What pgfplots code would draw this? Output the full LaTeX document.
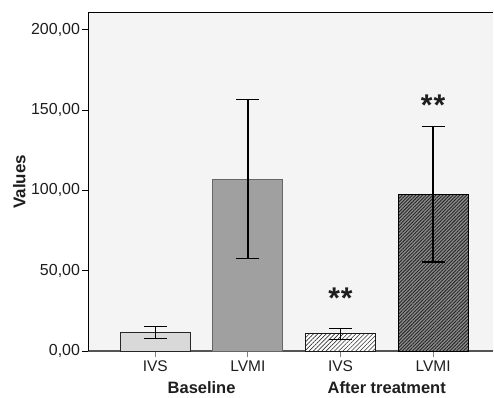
\documentclass[border=0pt]{standalone}
\usepackage{fontspec}
\setmainfont{Liberation Sans}
\usepackage{pgfplots}
\pgfplotsset{compat=1.18}
\usetikzlibrary{patterns.meta}
\definecolor{bg}{RGB}{243,244,243}
\definecolor{bara}{RGB}{217,217,217}
\definecolor{barb}{RGB}{160,160,160}
\definecolor{bard}{RGB}{140,140,140}
\definecolor{axgray}{RGB}{85,85,85}
\definecolor{txt}{RGB}{30,30,30}
\begin{document}
\begin{tikzpicture}
\pgfplotsset{
  myerr/.style={error bars/.cd, y dir=both, y explicit,
    error bar style={line width=1.3pt, black},
    error mark options={rotate=90, mark size=11.5pt, line width=1.3pt, black}},
}
\begin{axis}[
  scale only axis, width=405.7pt, height=339.4pt,
  xmin=-0.725, xmax=3.65, ymin=0, ymax=210.8,
  axis x line*=bottom, axis y line*=left,
  axis background/.style={fill=bg},
  x axis line style={draw=axgray, line width=1.5pt},
  y axis line style={draw=black, line width=0.9pt},
  tick align=outside,
  major tick length=6pt,
  x tick style={draw=gray, line width=0.8pt},
  y tick style={draw=black, line width=0.9pt},
  xtick={0,1,2,3}, xticklabels={IVS,LVMI,IVS,LVMI},
  ytick={0,50,100,150,200},
  /pgf/number format/assume math mode=true,
  yticklabel={\pgfmathprintnumber[fixed, fixed zerofill, precision=2, use comma]{\tick}},
  tick label style={font=\fontsize{15.5}{18}\selectfont, text=txt},
  yticklabel style={font=\fontsize{16}{18}\selectfont, inner sep=2pt},
  ylabel={\textbf{Values}},
  ylabel style={font=\fontsize{17}{19}\selectfont, text=txt},
  bar shift=0pt,
  clip=false,
]
\addplot[ybar, bar width=70pt, fill=bara, draw=black!85, line width=0.9pt, myerr]
  coordinates {(0,11.5) +- (0,3.8)};
\addplot[ybar, bar width=70pt, fill=barb, draw=black!60, line width=0.9pt, myerr]
  coordinates {(1,107.0) +- (0,49.5)};
\addplot[ybar, bar width=70pt, fill=white, draw=black!90, line width=0.9pt,
  postaction={pattern={Lines[angle=45, distance=3pt, line width=0.6pt]}, pattern color=black!80},
  myerr]
  coordinates {(2,10.8) +- (0,3.5)};
\addplot[ybar, bar width=70pt, fill=bard, draw=black, line width=0.9pt,
  postaction={pattern={Lines[angle=45, distance=2.4pt, line width=0.9pt]}, pattern color=black!85},
  myerr]
  coordinates {(3,97.6) +- (0,42.2)};
\node[anchor=base, font=\bfseries\fontsize{30}{30}\selectfont, text=txt] at (axis cs:2,26.6) {*\kern1pt*};
\node[anchor=base, font=\bfseries\fontsize{30}{30}\selectfont, text=txt] at (axis cs:3,146.9) {*\kern1pt*};
\node[font=\bfseries\fontsize{16.5}{19}\selectfont, text=txt] at (axis cs:0.5,0) [yshift=-37pt] {Baseline};
\node[font=\bfseries\fontsize{16.5}{19}\selectfont, text=txt] at (axis cs:2.5,0) [yshift=-37pt] {After treatment};
\draw[black, line width=0.9pt] (rel axis cs:0,1) -- (rel axis cs:1,1);
\coordinate (bl) at (rel axis cs:0,0);
\coordinate (tr) at (rel axis cs:1,1);
\end{axis}
\path (bl) ++(-88.3pt,-46.3pt) coordinate (A);
\path (tr) ++(0pt,12.3pt) coordinate (B);
\path (A) rectangle (B);
\end{tikzpicture}
\end{document}
